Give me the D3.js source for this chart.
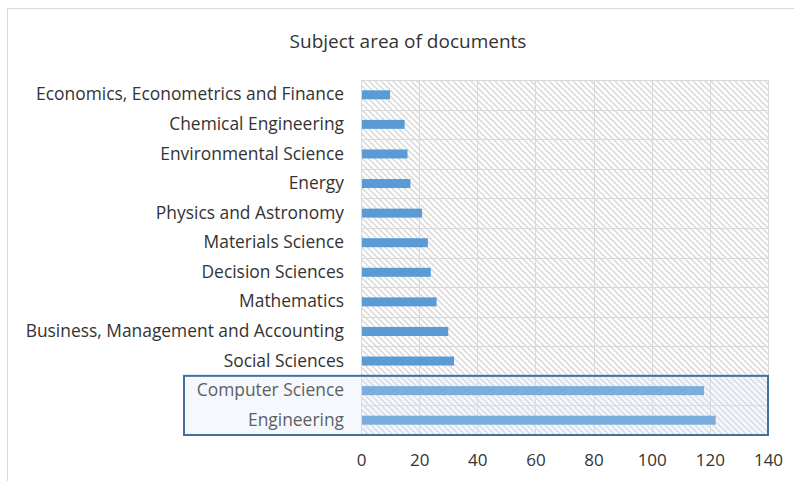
<!DOCTYPE html>
<html>
<head>
<meta charset="utf-8">
<script src="https://cdn.jsdelivr.net/npm/d3@7"></script>
<style>
  html, body { margin: 0; padding: 0; background: #fff; }
  svg { display: block; font-family: "Open Sans", "Noto Sans", sans-serif; }
</style>
</head>
<body>
<svg id="chart" width="794" height="481"></svg>
<script>
// Subject areas, listed top to bottom
const categories = [
  "Economics, Econometrics and Finance",
  "Chemical Engineering",
  "Environmental Science",
  "Energy",
  "Physics and Astronomy",
  "Materials Science",
  "Decision Sciences",
  "Mathematics",
  "Business, Management and Accounting",
  "Social Sciences",
  "Computer Science",
  "Engineering"
];
// Number of documents per subject area
const documents = [10, 15, 16, 17, 21, 23, 24, 26, 30, 32, 118, 122];
const xTicks = [0, 20, 40, 60, 80, 100, 120, 140];
// Subject areas framed together
const highlighted = ["Computer Science", "Engineering"];

const svg = d3.select("#chart");
const margin = { left: 361, top: 80 };

// Chart frame
svg.append("rect")
  .attr("x", 7.5).attr("y", 8.5)
  .attr("width", 800).attr("height", 500)
  .attr("fill", "#fff").attr("stroke", "#d9d9d9").attr("stroke-width", 1);

svg.append("text")
  .attr("x", 408).attr("y", 48)
  .attr("text-anchor", "middle")
  .attr("font-size", 19)
  .attr("fill", "#333")
  .text("Subject area of documents");

const x = d3.scaleLinear().domain([0, 140]).range([margin.left, 768]);
const y = d3.scaleBand().domain(categories).range([margin.top, 435]).paddingInner(0).paddingOuter(0);

// Diagonal hatch fill for the plot area
const defs = svg.append("defs");
const pat = defs.append("pattern")
  .attr("id", "hatch")
  .attr("patternUnits", "userSpaceOnUse")
  .attr("width", 6).attr("height", 6);
pat.append("rect").attr("width", 6).attr("height", 6).attr("fill", "#fff");
pat.append("path")
  .attr("d", "M-1,-1 L7,7 M-1,5 L1,7 M5,-1 L7,1")
  .attr("stroke", "#dcdcdc").attr("stroke-width", 1.6);

svg.append("rect")
  .attr("x", x(0)).attr("y", y.range()[0])
  .attr("width", x(140) - x(0)).attr("height", y.range()[1] - y.range()[0])
  .attr("fill", "url(#hatch)");

// Gridlines
const grid = svg.append("g").attr("stroke", "#d9d9d9").attr("stroke-width", 1);
grid.selectAll("line.v").data(xTicks).join("line")
  .attr("class", "v")
  .attr("x1", d => Math.round(x(d)) + 0.5).attr("x2", d => Math.round(x(d)) + 0.5)
  .attr("y1", y.range()[0]).attr("y2", y.range()[1]);
const bounds = categories.map(c => y(c)).concat([y.range()[1]]);
grid.selectAll("line.h").data(bounds).join("line")
  .attr("class", "h")
  .attr("x1", x(0)).attr("x2", x(140))
  .attr("y1", d => Math.round(d) + 0.5).attr("y2", d => Math.round(d) + 0.5);

// Bars
const barH = 9;
svg.append("g").selectAll("rect").data(categories).join("rect")
  .attr("x", x(0) + 1)
  .attr("y", c => y(c) + y.bandwidth() / 2 - barH / 2)
  .attr("width", (c, i) => x(documents[i]) - x(0) - 1)
  .attr("height", barH)
  .attr("fill", "#5b9bd5");

// Category axis labels
const yAxis = d3.axisLeft(y).tickSize(0).tickPadding(17);
const gy = svg.append("g").attr("transform", `translate(${x(0)},0)`).call(yAxis);
gy.select(".domain").remove();
gy.selectAll("text").attr("font-size", 17.4).attr("fill", "#333")
  .attr("font-family", "'Open Sans', 'Noto Sans', sans-serif");

// Value axis labels
const xAxis = d3.axisBottom(x).tickValues(xTicks).tickSize(0).tickPadding(19).tickFormat(d3.format("d"));
const gx = svg.append("g").attr("transform", `translate(0,${y.range()[1]})`).call(xAxis);
gx.select(".domain").remove();
gx.selectAll("text").attr("font-size", 17).attr("fill", "#333")
  .attr("font-family", "'Open Sans', 'Noto Sans', sans-serif");

// Frame around the highlighted subject areas
const hTop = y(highlighted[0]);
const hBot = y(highlighted[highlighted.length - 1]) + y.bandwidth();
svg.append("rect")
  .attr("x", 184).attr("y", hTop)
  .attr("width", x(140) - 184).attr("height", hBot - hTop)
  .attr("fill", "#d6e5f4").attr("fill-opacity", 0.25)
  .attr("stroke", "#41719c").attr("stroke-width", 2);
</script>
</body>
</html>
